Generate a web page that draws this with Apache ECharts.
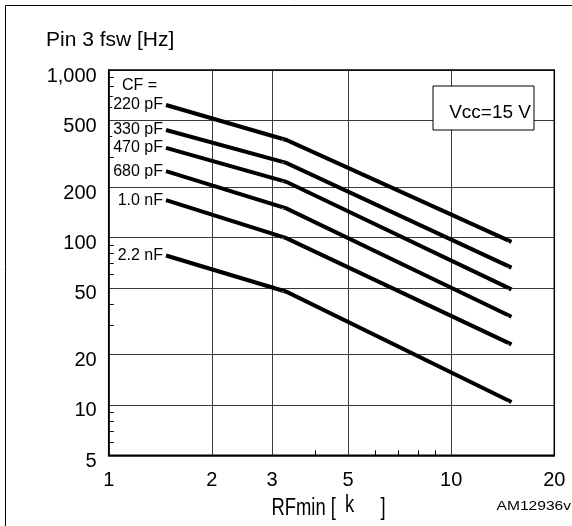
<!DOCTYPE html>
<html><head><meta charset="utf-8">
<script src="https://cdn.jsdelivr.net/npm/echarts@6/dist/echarts.min.js"></script>
<style>html,body{margin:0;padding:0;background:#fff}#c{width:572px;height:526px}</style>
</head><body><div id="c"></div>
<script>
// RFmin [kOhm] sample points: start, knee, end
const rfMin = [1.47, 3.3, 15];
const cfNames = ['220 pF', '330 pF', '470 pF', '680 pF', '1.0 nF', '2.2 nF'];
const fsw220p = [618, 382, 94];
const fsw330p = [438, 279, 66];
const fsw470p = [343, 215, 49];
const fsw680p = [249, 149, 33.6];
const fsw1n0 = [167, 99, 23];
const fsw2n2 = [78, 47.4, 10.4];
const xMajorTicks = [1, 2, 3, 5, 10, 20];
const xMinorTicks = [4, 6, 7, 8, 9];
const yMajorTicks = [5, 10, 20, 50, 100, 200, 500, 1000];
const yMinorTicks = [6, 7, 8, 9, 30, 40, 60, 70, 80, 90, 300, 400, 600, 700, 800, 900];

const allFsw = [fsw220p, fsw330p, fsw470p, fsw680p, fsw1n0, fsw2n2];
const FONT = 'Liberation Sans, Arial, sans-serif';

const chart = echarts.init(document.getElementById('c'), null, {renderer: 'canvas'});
const series = allFsw.map((vals, i) => ({
  type: 'line',
  name: cfNames[i],
  xAxisIndex: 0, yAxisIndex: 0,
  data: vals.map((v, j) => [rfMin[j], v]),
  symbol: 'circle', symbolSize: 0, showSymbol: true,
  lineStyle: {color: '#000', width: 4, cap: 'butt', join: 'miter'},
  itemStyle: {color: '#000'},
  label: {
    show: true, position: 'left', distance: 3,
    fontFamily: FONT, fontSize: 16, color: '#000',
    backgroundColor: '#fff', padding: [1, 0, 0, 1],
    formatter: p => p.dataIndex === 0 ? cfNames[i] : ''
  },
  emphasis: {disabled: true},
  silent: true, z: 5
}));

chart.setOption({
  animation: false,
  backgroundColor: '#fff',
  grid: {left: 108.7, top: 70, right: 17.7, bottom: 70.7, show: true, borderColor: '#000', borderWidth: 1.5, backgroundColor: 'transparent', z: 3},
  xAxis: [{
    type: 'log', logBase: 10, min: 1, max: 20, position: 'bottom',
    axisLine: {show: true, lineStyle: {color: '#000', width: 1.5}},
    axisTick: {show: false, customValues: xMajorTicks},
    axisLabel: {customValues: xMajorTicks, fontFamily: FONT, fontSize: 20, color: '#000', margin: 15,
      formatter: v => String(Math.round(v))},
    splitLine: {show: true, lineStyle: {color: '#3a3a3a', width: 1}},
    minorTick: {show: false}, minorSplitLine: {show: false}
  }, {
    type: 'log', logBase: 10, min: 1, max: 20, position: 'bottom', gridIndex: 0,
    axisLine: {show: false},
    axisTick: {show: true, inside: true, length: 5, customValues: xMinorTicks, lineStyle: {color: '#000', width: 1}},
    axisLabel: {show: false},
    splitLine: {show: false}
  }],
  yAxis: [{
    type: 'log', logBase: 10, min: 5, max: 1000, position: 'left',
    axisLine: {show: true, lineStyle: {color: '#000', width: 1.5}},
    axisTick: {show: false, customValues: yMajorTicks},
    axisLabel: {customValues: yMajorTicks, fontFamily: FONT, fontSize: 20, color: '#000', margin: 12,
      verticalAlign: 'top', lineHeight: 12,
      formatter: v => { const r = Math.round(v); return r === 1000 ? '1,000' : String(r); }},
    splitLine: {show: true, lineStyle: {color: '#3a3a3a', width: 1}},
    minorTick: {show: false}, minorSplitLine: {show: false}
  }, {
    type: 'log', logBase: 10, min: 5, max: 1000, position: 'left', gridIndex: 0,
    axisLine: {show: false},
    axisTick: {show: true, inside: true, length: 5, customValues: yMinorTicks, lineStyle: {color: '#000', width: 1}},
    axisLabel: {show: false},
    splitLine: {show: false}
  }],
  graphic: [
    {type: 'rect', z: 100, silent: true, shape: {x: 5.5, y: 5.5, width: 800, height: 800}, style: {fill: 'none', stroke: '#000', lineWidth: 1}},
    {type: 'text', z: 100, silent: true, x: 46, y: 40, style: {text: 'Pin 3 fsw [Hz]', fontFamily: FONT, fontSize: 21, fill: '#000', verticalAlign: 'middle'}},
    {type: 'text', z: 100, silent: true, x: 122, y: 86, style: {text: 'CF =', fontFamily: FONT, fontSize: 16, fill: '#000', verticalAlign: 'middle'}},
    {type: 'rect', z: 100, silent: true, shape: {x: 433, y: 86, width: 101, height: 44}, style: {fill: '#fff', stroke: '#000', lineWidth: 1}},
    {type: 'text', z: 101, silent: true, x: 531, y: 113, style: {text: 'Vcc=15 V', fontFamily: FONT, fontSize: 19, fill: '#000', align: 'right', verticalAlign: 'middle'}},
    {type: 'text', z: 100, silent: true, x: 271.5, y: 509, scaleX: 0.8, style: {text: 'RFmin [', fontFamily: FONT, fontSize: 23, fill: '#000', verticalAlign: 'middle'}},
    {type: 'text', z: 100, silent: true, x: 345, y: 506, scaleX: 0.8, style: {text: 'k', fontFamily: FONT, fontSize: 23, fill: '#000', verticalAlign: 'middle'}},
    {type: 'text', z: 100, silent: true, x: 380.5, y: 509, scaleX: 0.8, style: {text: ']', fontFamily: FONT, fontSize: 23, fill: '#000', verticalAlign: 'middle'}},
    {type: 'text', z: 100, silent: true, x: 496.5, y: 507, scaleX: 1.3, style: {text: 'AM12936v1', fontFamily: FONT, fontSize: 12, fill: '#000', verticalAlign: 'middle'}}
  ],
  series: series
});
</script></body></html>
